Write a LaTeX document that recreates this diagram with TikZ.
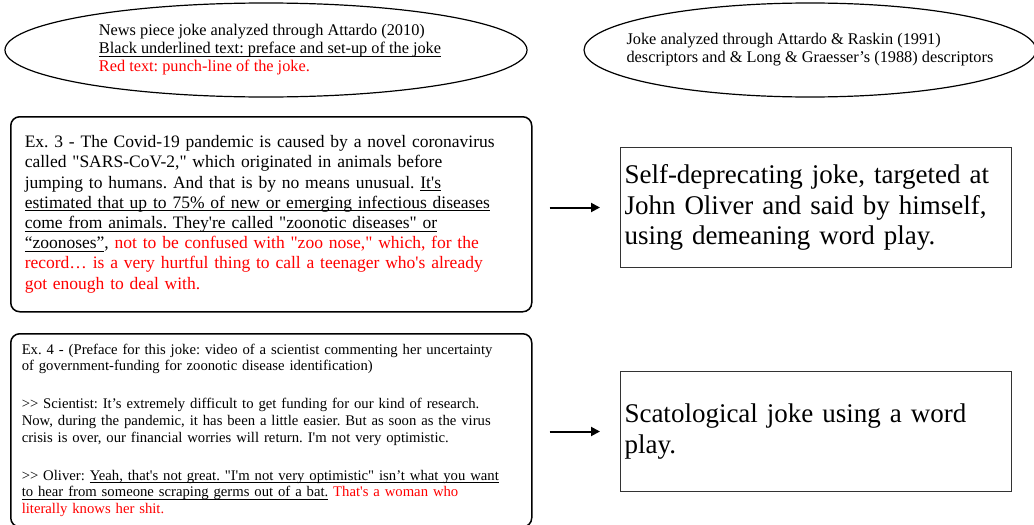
\documentclass[tikz,border=0pt]{standalone}
\usepackage{fontspec}
\setmainfont{Liberation Serif}[Ligatures=TeXOff]
\usetikzlibrary{shapes.geometric,arrows.meta}
\usepackage{xcolor}
\definecolor{punch}{HTML}{FF0000}
\newcommand{\punch}[1]{\textcolor{punch}{#1}}
\newcommand{\uln}[1]{\leavevmode\setbox0\hbox{#1}\rlap{\rule[-0.17em]{\wd0}{0.9pt}}\box0\relax}
\frenchspacing

\begin{document}
\begin{tikzpicture}[x=1pt,y=-1pt,
        legend/.style={ellipse,draw,line width=1.2pt},
        legendtext/.style={align=left,font=\fontsize{16.3}{18}\selectfont\frenchspacing},
        jokebox/.style={draw,rounded corners=9pt,line width=1.5pt,anchor=north west,align=left},
        typebox/.style={draw=black!80,line width=1pt,anchor=north west,align=left,text width=383pt,
            inner xsep=4pt,minimum height=120pt,font=\fontsize{27}{30.5}\selectfont\frenchspacing},
        arrow/.style={-{Triangle[length=9pt,width=9pt]},line width=2pt,shorten <=17pt,shorten >=20pt}]
        \useasboundingbox (0,0) rectangle (1034,525);
        % legends
        \node (legend1) [legend,minimum width=522pt,minimum height=94pt] at (266,50) {};
        \node (legend1text) [legendtext,xshift=4pt] at (legend1.center) {News piece joke analyzed through Attardo (2010)\\
            \uln{Black underlined text: preface and set-up of the joke}\\
            \punch{Red text: punch-line of the joke.}};
        \node (legend2) [legend,minimum width=452pt,minimum height=94pt] at (810,50) {};
        \node (legend2text) [legendtext] at (legend2.center) {Joke analyzed through Attardo \& Raskin (1991)\\
            descriptors and \& Long \& Graesser’s (1988) descriptors};
        % jokes
        \node (ex3) [jokebox,text width=493pt,inner xsep=14pt,minimum height=195pt,font=\fontsize{17.5}{20.2}\selectfont\frenchspacing] at (10,116) {Ex. 3 - The Covid-19 pandemic is caused by a novel coronavirus\\
            called "SARS-CoV-2," which originated in animals before\\
            jumping to humans. And that is by no means unusual. \uln{It's}\\
            \uln{estimated that up to 75\% of new or emerging infectious diseases}\\
            \uln{come from animals. They're called "zoonotic diseases" or}\\
            \uln{“zoonoses”}, \punch{not to be confused with "zoo nose," which, for the}\\
            \punch{record… is a very hurtful thing to call a teenager who's already}\\
            \punch{got enough to deal with.}};
        \node (ex4) [jokebox,text width=499pt,inner xsep=11pt,inner ysep=10pt,font=\fontsize{14.7}{16.8}\selectfont\frenchspacing] at (10,333) {Ex. 4 - (Preface for this joke: video of a scientist commenting her uncertainty\\
            of government-funding for zoonotic disease identification)\\[21pt]
            >> Scientist: It’s extremely difficult to get funding for our kind of research.\\
            Now, during the pandemic, it has been a little easier. But as soon as the virus\\
            crisis is over, our financial worries will return. I'm not very optimistic.\\[21pt]
            >> Oliver: \uln{Yeah, that's not great. "I'm not very optimistic" isn’t what you want}\\
            \uln{to hear from someone scraping germs out of a bat.} \punch{That's a woman who}\\
            \punch{literally knows her shit.}};
        % joke types
        \node (type3) [typebox] at (620,147) {Self-deprecating joke, targeted at\\John Oliver and said by himself,\\using demeaning word play.};
        \node (type4) [typebox] at (620,371) {Scatological joke using a word\\play.};
        \draw[arrow] (ex3.east |- type3.west) -- (type3.west);
        \draw[arrow] (ex4.east |- type4.west) -- (type4.west);
    \end{tikzpicture}
\end{document}
